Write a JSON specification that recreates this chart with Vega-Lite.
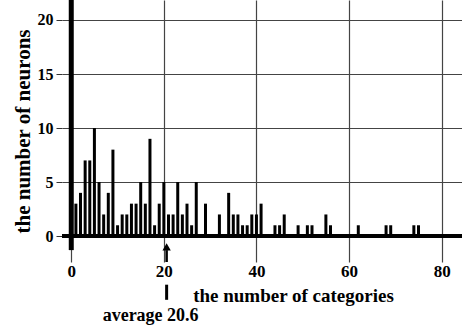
{
  "$schema": "https://vega.github.io/schema/vega-lite/v6.json",
  "width": 400,
  "height": 262,
  "autosize": "none",
  "padding": {"left": 62, "top": 0, "right": 0, "bottom": 67},
  "background": "white",
  "config": {
    "view": {"stroke": null},
    "font": "Liberation Serif",
    "axis": {"labelFont": "Liberation Serif", "titleFont": "Liberation Serif", "labelFontWeight": "bold", "titleFontWeight": "bold", "labelColor": "black", "titleColor": "black"}
  },
  "layer": [
    {
      "data": {"values": [
        {"c": 0, "n": 22}, {"c": 1, "n": 3}, {"c": 2, "n": 4}, {"c": 3, "n": 7}, {"c": 4, "n": 7},
        {"c": 5, "n": 10}, {"c": 6, "n": 5}, {"c": 7, "n": 2}, {"c": 8, "n": 4}, {"c": 9, "n": 8},
        {"c": 10, "n": 1}, {"c": 11, "n": 2}, {"c": 12, "n": 2}, {"c": 13, "n": 3}, {"c": 14, "n": 3},
        {"c": 15, "n": 5}, {"c": 16, "n": 3}, {"c": 17, "n": 9}, {"c": 18, "n": 1}, {"c": 19, "n": 3},
        {"c": 20, "n": 5}, {"c": 21, "n": 2}, {"c": 22, "n": 2}, {"c": 23, "n": 5}, {"c": 24, "n": 2},
        {"c": 25, "n": 3}, {"c": 26, "n": 1}, {"c": 27, "n": 5}, {"c": 29, "n": 3}, {"c": 32, "n": 2},
        {"c": 34, "n": 4}, {"c": 35, "n": 2}, {"c": 36, "n": 2}, {"c": 37, "n": 1}, {"c": 38, "n": 1},
        {"c": 39, "n": 2}, {"c": 40, "n": 2}, {"c": 41, "n": 3}, {"c": 44, "n": 1}, {"c": 45, "n": 1},
        {"c": 46, "n": 2}, {"c": 49, "n": 1}, {"c": 51, "n": 1}, {"c": 52, "n": 1}, {"c": 55, "n": 2},
        {"c": 56, "n": 1}, {"c": 62, "n": 1}, {"c": 68, "n": 1}, {"c": 69, "n": 1}, {"c": 74, "n": 1},
        {"c": 75, "n": 1}
      ]},
      "mark": {"type": "rule", "color": "black", "clip": true, "strokeCap": "butt"},
      "encoding": {
        "x": {"field": "c", "type": "quantitative", "scale": {"domain": [-2, 84.4], "nice": false, "zero": false},
          "axis": {"values": [0, 20, 40, 60, 80], "grid": true, "gridColor": "#444", "gridWidth": 1.2, "gridOpacity": 1, "ticks": false, "domain": false, "labelFontSize": 17, "labelPadding": 1, "title": "the number of categories", "titleFontSize": 19, "titleAnchor": "middle", "titleX": 231, "titleY": 39, "titleBaseline": "alphabetic"}},
        "y": {"field": "n", "type": "quantitative", "scale": {"domain": [-2.4, 21.85], "nice": false, "zero": false},
          "axis": {"values": [0, 5, 10, 15, 20], "grid": true, "gridColor": "#444", "gridWidth": 1.2, "gridOpacity": 1, "tickSize": 6, "tickColor": "#333", "domain": false, "labelFontSize": 16, "labelPadding": 3, "title": "the number of neurons", "titleFontSize": 21, "titlePadding": 4}},
        "y2": {"datum": 0},
        "strokeWidth": {"condition": {"test": "datum.c == 0", "value": 5}, "value": 3}
      }
    },
    {
      "data": {"values": [{}]},
      "mark": {"type": "rule", "color": "black", "strokeWidth": 4},
      "encoding": {"y": {"datum": 0}}
    },
    {
      "data": {"values": [{}]},
      "mark": {"type": "rule", "color": "black", "strokeWidth": 5, "strokeCap": "butt"},
      "encoding": {"x": {"datum": 0}, "y": {"datum": -1.3}, "y2": {"datum": 0}}
    },
    {
      "data": {"values": [{}]},
      "mark": {"type": "point", "shape": "triangle-up", "filled": true, "color": "black", "size": 70, "opacity": 1},
      "encoding": {"x": {"datum": 20.6}, "y": {"datum": -1.0}}
    },
    {
      "data": {"values": [{}]},
      "mark": {"type": "rule", "color": "black", "strokeWidth": 2.5, "strokeCap": "butt"},
      "encoding": {"x": {"datum": 20.6}, "y": {"datum": -1.3}, "y2": {"datum": -2.4}}
    },
    {
      "data": {"values": [{}]},
      "mark": {"type": "rule", "color": "black", "strokeWidth": 3, "strokeCap": "butt"},
      "encoding": {"x": {"datum": 20.6}, "y": {"datum": -4.5}, "y2": {"datum": -5.9}}
    },
    {
      "data": {"values": [{}]},
      "mark": {"type": "text", "text": "average 20.6", "font": "Liberation Serif", "fontWeight": "bold", "fontSize": 18, "align": "center", "baseline": "alphabetic", "dx": -16, "color": "black"},
      "encoding": {"x": {"datum": 20.6}, "y": {"datum": -7.9}}
    }
  ]
}
